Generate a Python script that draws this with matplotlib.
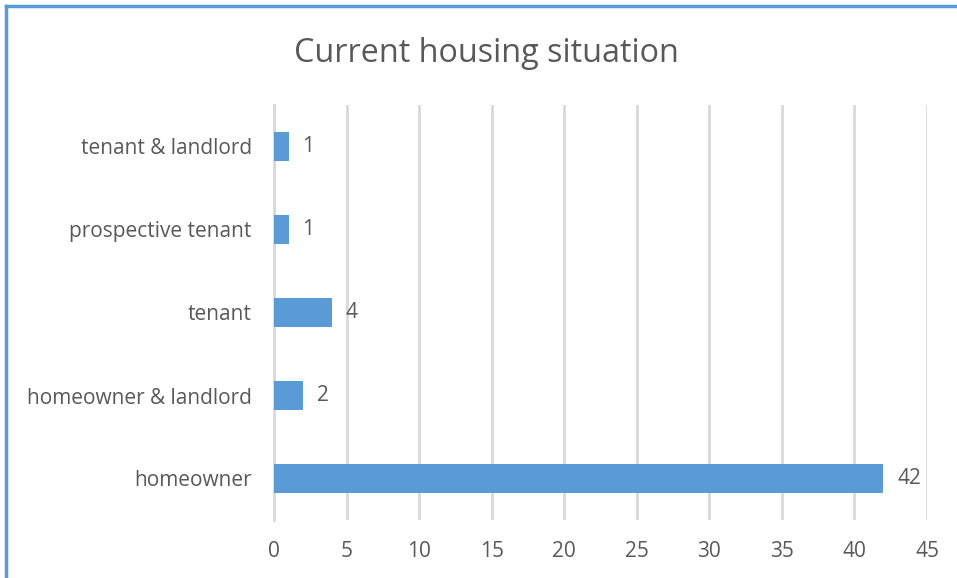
import matplotlib
matplotlib.use("Agg")
import matplotlib.pyplot as plt
from matplotlib.lines import Line2D

# data
categories = ['homeowner', 'homeowner & landlord', 'tenant', 'prospective tenant', 'tenant & landlord']
counts = [42, 2, 4, 1, 1]
xticks = [0, 5, 10, 15, 20, 25, 30, 35, 40, 45]

bar_color = '#5b9bd5'
text_color = '#595959'
grid_color = '#d9d9d9'

plt.rcParams['font.family'] = ['Open Sans', 'DejaVu Sans']

fig = plt.figure(figsize=(9.57, 5.78), dpi=100)
ax = fig.add_axes([274/957, 1 - 520/578, (927 - 274)/957, (520 - 105)/578])

y = range(len(categories))
ax.barh(y, counts, height=0.36, color=bar_color, zorder=3)

# data labels
for i, v in enumerate(counts):
    ax.annotate(str(v), (v, i), xytext=(10, 0), textcoords='offset points',
                va='center', ha='left', fontsize=15, color=text_color)

ax.set_xlim(0, 45)
ax.set_ylim(-0.5, len(categories) - 0.5)
ax.set_xticks(xticks)
ax.set_yticks(list(y))
ax.set_yticklabels(categories)
ax.tick_params(axis='both', length=0, labelsize=15, colors=text_color)
ax.tick_params(axis='x', pad=15)
ax.tick_params(axis='y', pad=16)

ax.grid(axis='x', color=grid_color, linewidth=2, zorder=0)
for s in ['top', 'right', 'bottom']:
    ax.spines[s].set_visible(False)
ax.spines['left'].set_color(grid_color)
ax.spines['left'].set_linewidth(2)

fig.text(486/957, 1 - 53/578, 'Current housing situation', ha='center', va='center',
         fontsize=23.3, color=text_color)

# chart border (only top and left visible in the crop)
fig.add_artist(Line2D([6/957, 1], [1 - 6/578, 1 - 6/578], color=bar_color, linewidth=2.5))
fig.add_artist(Line2D([6/957, 6/957], [0, 1 - 6/578], color=bar_color, linewidth=2.5))

fig.savefig('out.png', dpi=100)
